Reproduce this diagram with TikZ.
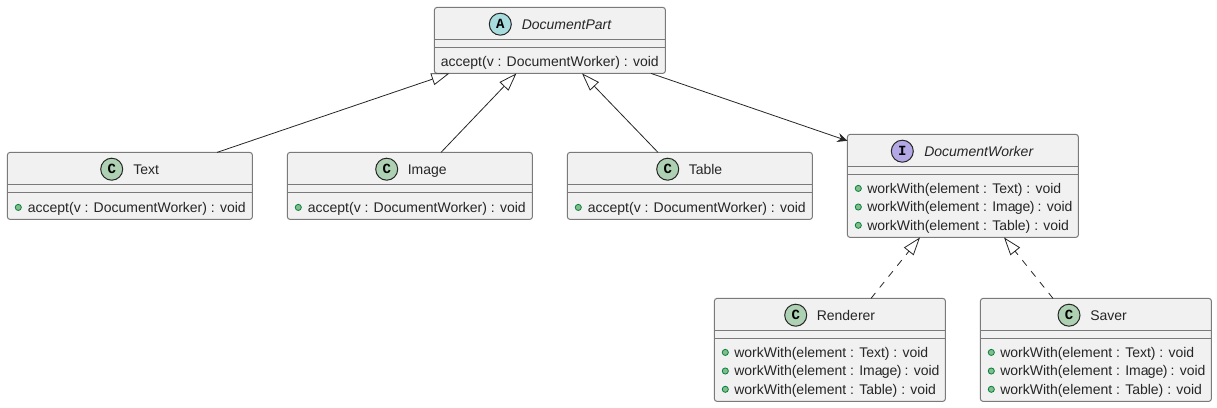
\documentclass[tikz,border=0pt]{standalone}
\usepackage{fontspec}
\setmainfont{Liberation Sans}
\newfontfamily\circlefont{Liberation Mono}[BoldFont={Liberation Mono Bold}]
\usetikzlibrary{arrows.meta}
\definecolor{boxfill}{HTML}{F1F1F1}
\definecolor{boxline}{HTML}{7A7A7A}
\definecolor{ink}{HTML}{262626}
\definecolor{classc}{HTML}{ADD1B2}
\definecolor{abstractc}{HTML}{A9DCDF}
\definecolor{interfacec}{HTML}{B4A7E5}
\definecolor{pubfill}{HTML}{84BE84}
\definecolor{publine}{HTML}{038048}
\newcommand{\imagetext}{workWith(element : Ima\kern-.5pt ge\kern-.4pt)\kern-.6pt\ : void}
\tikzset{
  umlbox/.style={draw=boxline,fill=boxfill,line width=0.75pt,rounded corners=2pt,anchor=north west,inner sep=0pt,outer sep=0pt},
  divider/.style={draw=boxline,line width=0.75pt},
  badge/.style={circle,draw=ink,line width=0.75pt,minimum size=16.5pt,inner sep=0pt,font=\circlefont\bfseries\fontsize{10.5pt}{10.5pt}\selectfont,text=black},
  title/.style={anchor=base west,inner sep=0pt,font=\fontsize{10.5pt}{12pt}\selectfont,text=ink},
  atitle/.style={title,font=\fontsize{10.5pt}{12pt}\selectfont\itshape},
  member/.style={anchor=base west,inner sep=0pt,font=\fontsize{10.5pt}{12pt}\selectfont,text=ink},
  pub/.style={circle,draw=publine,fill=pubfill,line width=0.6pt,minimum size=4.6pt,inner sep=0pt},
  conn/.style={draw=ink,line width=0.6pt},
  inherit/.style={conn,-{Triangle[open,fill=white,length=13.5pt,width=9.2pt,line width=0.6pt]}},
  realize/.style={inherit,dash pattern=on 5.25pt off 5.25pt},
  assoc/.style={conn,-{Stealth[length=7.5pt,width=6.8pt,inset=2.6pt,fill=ink,line width=0.4pt]}}
}
\newcommand{\umlnode}[5]{%
  \node[umlbox,minimum width=#4*0.75pt,minimum height=#5*0.75pt] (#1) at (#2,#3) {};
  \draw[divider] ([yshift=-32*0.75pt]#1.north west) -- ([yshift=-32*0.75pt]#1.north east);
  \draw[divider] ([yshift=-40*0.75pt]#1.north west) -- ([yshift=-40*0.75pt]#1.north east);
}
\newcommand{\umlrow}[5]{% name,dot x,dot y,text x,text
  \node[pub] (#1dot) at (#2,#3) {};
  \node[member] (#1txt) at (#4,#3+4.7) {#5};
}
\begin{document}
\begin{tikzpicture}[x=0.75pt,y=-0.75pt]
\useasboundingbox (0,0) rectangle (1217,407);
\fill[white] (0,0) rectangle (1217,407);

\umlnode{part}{434.4}{7.4}{231}{66}
\umlnode{text}{7.4}{152.4}{245}{67}
\umlnode{image}{287.4}{152.4}{245}{67}
\umlnode{table}{567.4}{152.4}{245}{67}
\umlnode{worker}{847.4}{134.4}{231}{103}
\umlnode{renderer}{714.4}{298.4}{231}{103}
\umlnode{saver}{980.4}{298.4}{231}{103}

% titles
\node[badge,fill=abstractc] (partb) at (500.3,24.2) {A};
\node[atitle] (partt) at (521.5,29) {DocumentPart};
\node[badge,fill=classc] (textb) at (111.7,169.2) {C};
\node[title] (textt) at (133,174) {Text};
\node[badge,fill=classc] (imageb) at (386.7,169.2) {C};
\node[title] (imaget) at (407.5,174) {Image};
\node[badge,fill=classc] (tableb) at (667.7,169.2) {C};
\node[title] (tablet) at (688.5,174) {Table};
\node[badge,fill=interfacec] (workerb) at (902.3,151.2) {I};
\node[atitle] (workert) at (924,156) {DocumentWorker};
\node[badge,fill=classc] (rendererb) at (795.7,315.2) {C};
\node[title] (renderert) at (816.5,320) {Renderer};
\node[badge,fill=classc] (saverb) at (1069,315.2) {C};
\node[title] (savert) at (1090,320) {Saver};

% members
\node[member] (parta) at (440.6,66) {accept(v : DocumentWorker) : void};
\umlrow{ta}{18.3}{207.4}{27.6}{accept(v : DocumentWorker) : void}
\umlrow{ia}{298.3}{207.4}{307.6}{accept(v : DocumentWorker) : void}
\umlrow{la}{578.3}{207.4}{587.6}{accept(v : DocumentWorker) : void}
\umlrow{wa}{858.3}{188.4}{867}{workWith(element : Text) : void}
\umlrow{wb}{858.3}{207}{867}{\imagetext}
\umlrow{wc}{858.3}{225.3}{867}{workWith(element : Table) : void}
\umlrow{ra}{725.3}{352.4}{734}{workWith(element : Text) : void}
\umlrow{rb}{725.3}{371}{734}{\imagetext}
\umlrow{rc}{725.3}{389.3}{734}{workWith(element : Table) : void}
\umlrow{sa}{991.3}{352.4}{1000}{workWith(element : Text) : void}
\umlrow{sb}{991.3}{371}{1000}{\imagetext}
\umlrow{sc}{991.3}{389.3}{1000}{workWith(element : Table) : void}

% connectors
\draw[inherit] ([xshift=209.6*0.75pt]text.north west) -- ([xshift=15*0.75pt]part.south west);
\draw[inherit] ([xshift=153.6*0.75pt]image.north west) -- ([xshift=82*0.75pt]part.south west);
\draw[inherit] ([xshift=90.6*0.75pt]table.north west) -- ([xshift=147.6*0.75pt]part.south west);
\draw[assoc] ([xshift=216.6*0.75pt]part.south west) -- ([yshift=-6.4*0.75pt]worker.north west);
\draw[realize] ([xshift=156.6*0.75pt]renderer.north west) -- ([xshift=72.6*0.75pt]worker.south west);
\draw[realize] ([xshift=72.6*0.75pt]saver.north west) -- ([xshift=156.6*0.75pt]worker.south west);
\end{tikzpicture}
\end{document}
